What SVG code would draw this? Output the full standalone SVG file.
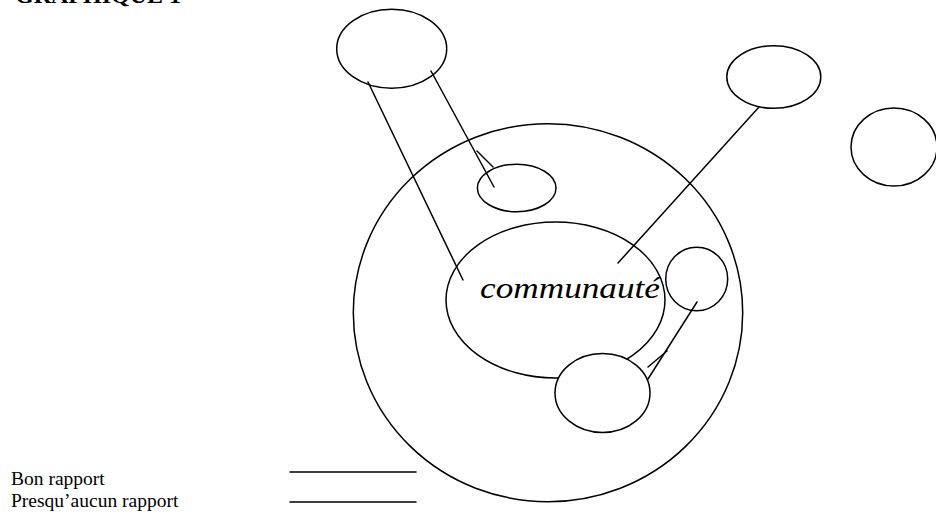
<svg xmlns="http://www.w3.org/2000/svg" width="936" height="516" viewBox="0 0 936 516">
  <style>
    .shape { fill: #ffffff; stroke: #000000; stroke-width: 1.5; }
    .ring { fill: none; stroke: #000000; stroke-width: 1.5; }
    .conn { stroke: #000000; stroke-width: 1.5; fill: none; stroke-linecap: round; }
    .legend { font-family: "Liberation Serif", "Times New Roman", serif; font-size: 19.5px; fill: #000000; }
    .title { font-family: "Liberation Serif", "Times New Roman", serif; font-size: 24px; font-weight: bold; fill: #000000; }
    .label { font-family: "Liberation Serif", "Times New Roman", serif; font-style: italic; font-size: 29px; fill: #000000; }
  </style>
  <rect x="0" y="0" width="936" height="516" fill="#ffffff"/>

  <text class="title" x="15" y="3">GRAPHIQUE 1</text>

  <g id="society">
    <ellipse class="ring" cx="548" cy="312.7" rx="194.7" ry="189"/>
  </g>

  <g id="communaute">
    <ellipse class="shape" cx="555.5" cy="300" rx="109.5" ry="78"/>
    <text class="label" x="480" y="298" textLength="180" lengthAdjust="spacingAndGlyphs">communauté</text>
  </g>

  <g id="node-bottom">
    <ellipse class="shape" cx="602.5" cy="393" rx="47.5" ry="39.5"/>
  </g>

  <g id="node-inner-top">
    <ellipse class="shape" cx="516.7" cy="188" rx="39.3" ry="23.7"/>
  </g>

  <g id="node-inner-right">
    <ellipse class="shape" cx="696.7" cy="279" rx="31" ry="31.7"/>
  </g>

  <g id="node-top-left">
    <ellipse class="shape" cx="391.7" cy="48.8" rx="55" ry="39.5"/>
  </g>

  <g id="node-top-right">
    <ellipse class="shape" cx="773.8" cy="77" rx="47" ry="31.3"/>
  </g>

  <g id="node-far-right">
    <ellipse class="shape" cx="894" cy="147" rx="43" ry="39"/>
  </g>

  <g id="connectors">
    <line class="conn" x1="368" y1="82" x2="463" y2="280"/>
    <line class="conn" x1="431" y1="71" x2="494" y2="187"/>
    <line class="conn" x1="477" y1="151" x2="493" y2="167"/>
    <line class="conn" x1="759" y1="107" x2="618" y2="263"/>
    <line class="conn" x1="697" y1="302" x2="648" y2="379"/>
    <line class="conn" x1="667" y1="351" x2="648" y2="367"/>
  </g>

  <g id="legend">
    <text class="legend" x="11" y="485">Bon rapport</text>
    <text class="legend" x="11" y="507">Presqu’aucun rapport</text>
    <line class="conn" x1="290" y1="472" x2="416" y2="472"/>
    <line class="conn" x1="290" y1="502" x2="416" y2="502"/>
  </g>
</svg>
